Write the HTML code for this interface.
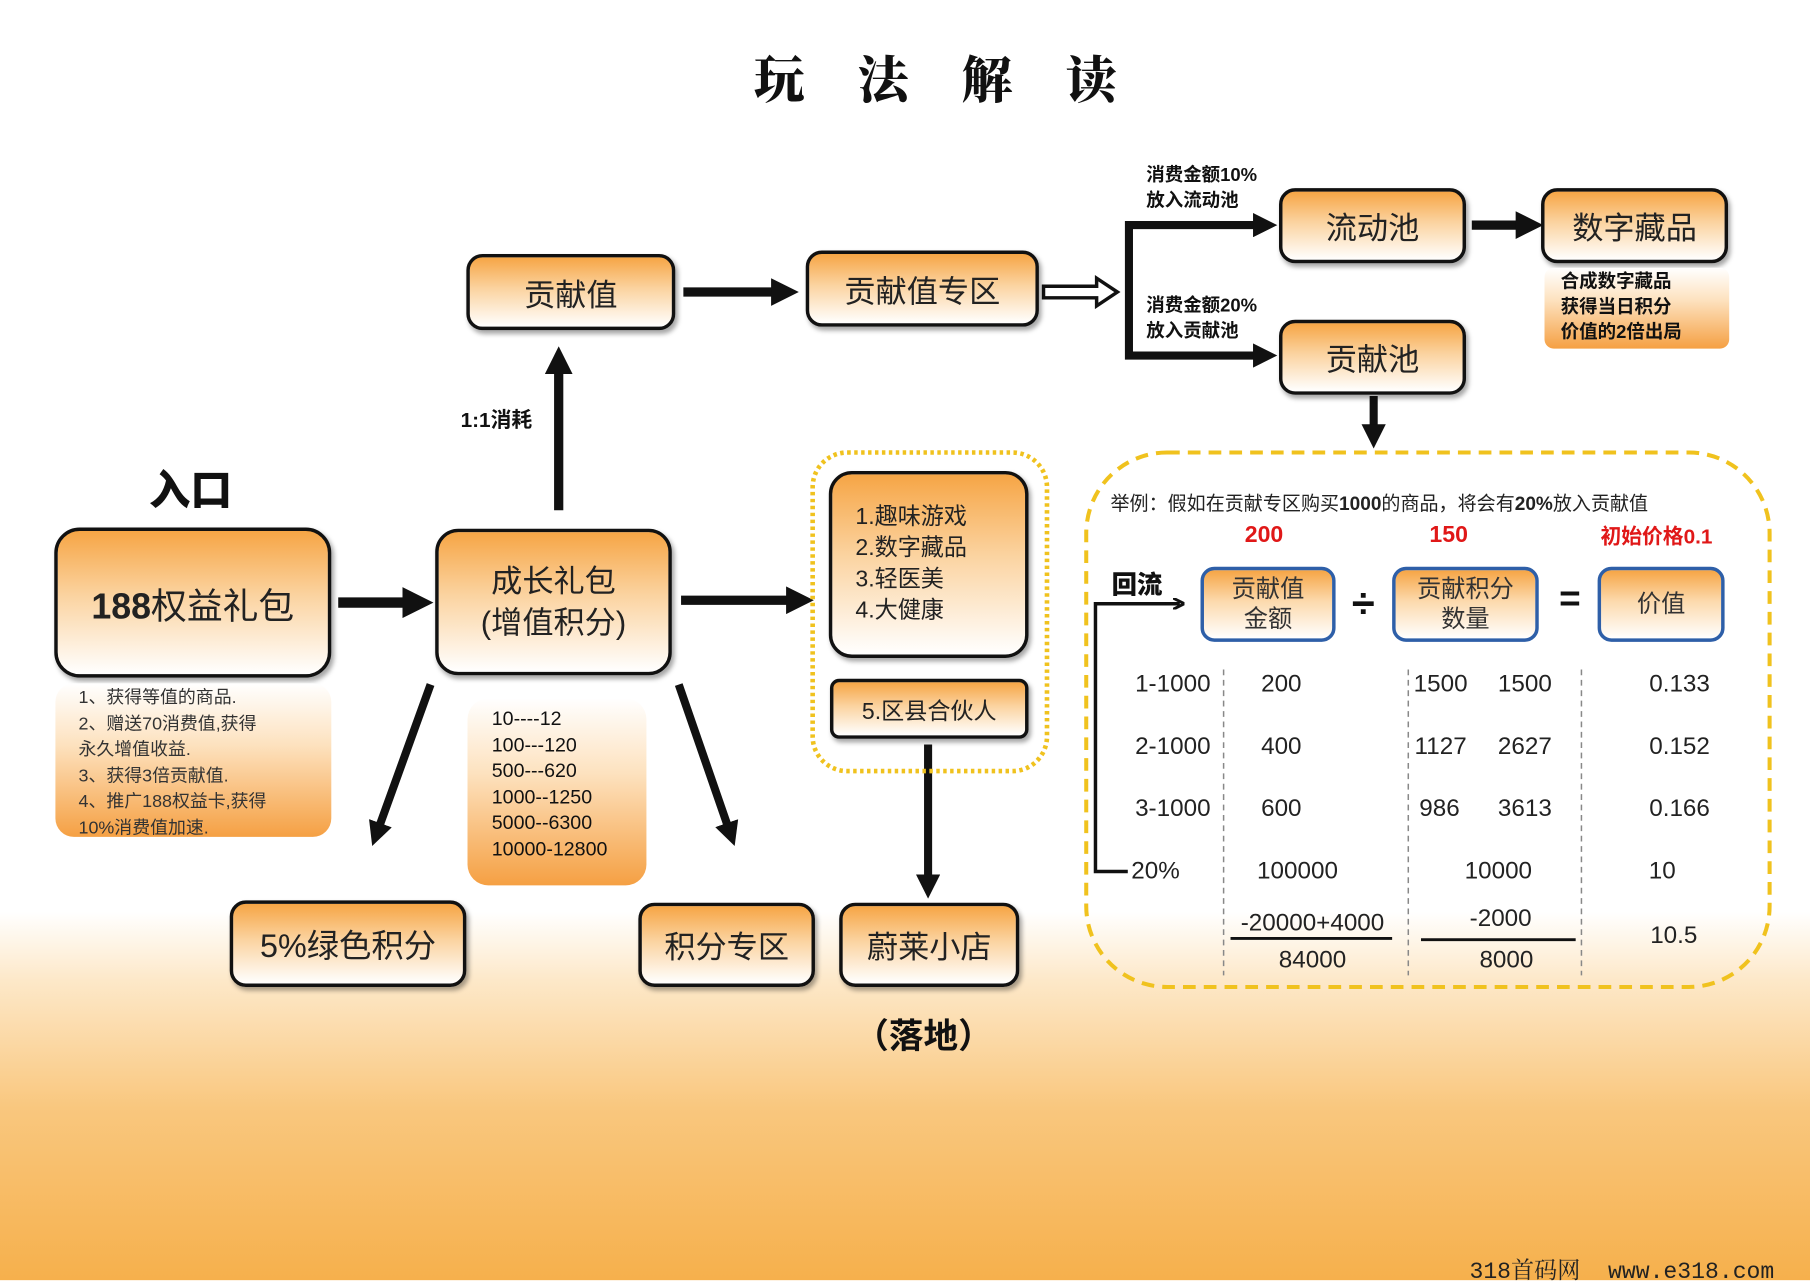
<!DOCTYPE html>
<html><head><meta charset="utf-8">
<style>
html,body{margin:0;padding:0;width:1810px;height:1280px;overflow:hidden;background:#fff}
#wrap{position:absolute;left:0;top:0;width:1568px;height:1109px;transform:scale(1.15434);transform-origin:0 0;
background:linear-gradient(to bottom,#fff 0,#fff 790px,#fde8c8 850px,#f9c77e 960px,#f6b04c 1109px);
font-family:"Liberation Sans","Noto Sans CJK SC",sans-serif;color:#111}
.a{position:absolute}
.box{position:absolute;box-sizing:border-box;border:3px solid #111;border-radius:14px;
background:linear-gradient(to bottom,#f6a545 0%,#fbd3a0 45%,#fff 100%);
box-shadow:2px 3px 4px rgba(0,0,0,.35);display:flex;align-items:center;justify-content:center;text-align:center;color:#222}
.bbox{position:absolute;box-sizing:border-box;border:3px solid #2e5fa8;border-radius:12px;
background:linear-gradient(to bottom,#f6a545 0%,#fcd9ac 45%,#fff 100%);display:flex;align-items:center;justify-content:center;text-align:center;color:#333;font-size:21px;line-height:26px}
.note{position:absolute;box-sizing:border-box;border-radius:16px;background:linear-gradient(to bottom,#fff 0%,#fde2bf 40%,#f5a043 100%)}
.c{transform:translate(-50%,-50%);white-space:nowrap}
.t{font-size:22px;color:#222}
</style></head><body><div id="wrap">

<div class="a c" style="left:810px;top:66px;font-family:'Noto Serif CJK SC','Noto Sans CJK SC',serif;font-weight:900;font-size:44px;letter-spacing:46px;padding-left:46px">玩法解读</div>

<svg class="a" style="left:0;top:0" width="1568" height="1109">
<defs>
<marker id="h" markerWidth="3" markerHeight="3" refX="1.5" refY="1.5" orient="auto" markerUnits="strokeWidth"><path d="M0,0 L3,1.5 L0,3 Z" fill="#111"/></marker>
<marker id="h3" markerWidth="10" markerHeight="10" refX="6" refY="5" orient="auto" markerUnits="userSpaceOnUse"><path d="M0,0 L10,5 L0,10" fill="none" stroke="#111" stroke-width="2.5"/></marker>
</defs>
<g stroke="#111" fill="none">
<line x1="592" y1="253" x2="680" y2="253" stroke-width="8" marker-end="url(#h)"/>
<path d="M904,248 H950 V241 L968,253 L950,265 V258 H904 Z" stroke-width="3" fill="#fff"/>
<path d="M1095,195 H978 V308 H1095" stroke-width="7"/>
<line x1="1090" y1="195" x2="1096" y2="195" stroke-width="7" marker-end="url(#h)"/>
<line x1="1090" y1="308" x2="1096" y2="308" stroke-width="7" marker-end="url(#h)"/>
<line x1="1275" y1="195" x2="1325" y2="195" stroke-width="8" marker-end="url(#h)"/>
<line x1="1190" y1="343" x2="1190" y2="378" stroke-width="7" marker-end="url(#h)"/>
<line x1="293" y1="522" x2="362" y2="522" stroke-width="9" marker-end="url(#h)"/>
<line x1="484" y1="442" x2="484" y2="312" stroke-width="8" marker-end="url(#h)"/>
<line x1="590" y1="520" x2="693" y2="520" stroke-width="8" marker-end="url(#h)"/>
<line x1="373" y1="593" x2="326" y2="723" stroke-width="7" marker-end="url(#h)"/>
<line x1="588" y1="593" x2="633" y2="723" stroke-width="7" marker-end="url(#h)"/>
<line x1="804" y1="645" x2="804" y2="768" stroke-width="7" marker-end="url(#h)"/>
<path d="M1022,523 H949 V755 H977" stroke-width="3"/>
<line x1="1010" y1="523" x2="1022" y2="523" stroke-width="3" marker-end="url(#h3)"/>
<g stroke="#888" stroke-width="1.3" stroke-dasharray="5,4">
<line x1="1060" y1="580" x2="1060" y2="845"/><line x1="1220" y1="580" x2="1220" y2="845"/><line x1="1370" y1="580" x2="1370" y2="845"/>
</g>
<line x1="1066" y1="813" x2="1206" y2="813" stroke-width="2.5"/>
<line x1="1231" y1="814" x2="1365" y2="814" stroke-width="2.5"/>
<rect x="941" y="392" width="592" height="463" rx="70" stroke="#f0c21e" stroke-width="3.5" stroke-dasharray="11,7"/>
<rect x="704" y="392" width="203" height="276" rx="30" stroke="#f0c21e" stroke-width="4" stroke-dasharray="3,3"/>
</g>
</svg>

<div class="box t" style="left:404px;top:220px;width:181px;height:66px;font-size:27px">贡献值</div>
<div class="box t" style="left:698px;top:217px;width:202px;height:66px;font-size:27px">贡献值专区</div>
<div class="box t" style="left:1108px;top:163px;width:162px;height:65px;font-size:27px">流动池</div>
<div class="box t" style="left:1108px;top:277px;width:162px;height:65px;font-size:27px">贡献池</div>
<div class="box t" style="left:1335px;top:163px;width:162px;height:65px;font-size:27px">数字藏品</div>
<div class="note" style="left:1338px;top:232px;width:160px;height:70px;border-radius:8px"></div>
<div class="a" style="left:1352px;top:234px;font-size:16px;font-weight:bold;line-height:22px">合成数字藏品<br>获得当日积分<br>价值的2倍出局</div>
<div class="a" style="left:993px;top:142px;font-size:16px;font-weight:bold;line-height:22px">消费金额10%<br>放入流动池</div>
<div class="a" style="left:993px;top:255px;font-size:16px;font-weight:bold;line-height:22px">消费金额20%<br>放入贡献池</div>

<div class="a c" style="left:430px;top:363px;font-size:18px;font-weight:bold">1:1消耗</div>
<div class="a c" style="left:165px;top:422px;font-size:36px;font-weight:900">入口</div>
<div class="box" style="left:47px;top:457px;width:240px;height:130px;border-radius:22px;font-size:31px"><span><b>188</b>权益礼包</span></div>
<div class="note" style="left:48px;top:592px;width:239px;height:133px"></div>
<div class="a" style="left:68px;top:594px;font-size:15.5px;line-height:22.5px;color:#333">1、获得等值的商品.<br>2、赠送70消费值,获得<br>永久增值收益.<br>3、获得3倍贡献值.<br>4、推广188权益卡,获得<br>10%消费值加速.</div>
<div class="box" style="left:377px;top:458px;width:205px;height:127px;border-radius:20px;font-size:27px;line-height:36px">成长礼包<br>(增值积分)</div>
<div class="note" style="left:405px;top:605px;width:155px;height:162px;border-radius:18px"></div>
<div class="a" style="left:426px;top:612px;font-size:17px;line-height:22.5px">10----12<br>100---120<br>500---620<br>1000--1250<br>5000--6300<br>10000-12800</div>

<div class="box" style="left:718px;top:408px;width:173px;height:162px;border-radius:20px;justify-content:flex-start;text-align:left;font-size:20px;line-height:27px;padding-left:20px">1.趣味游戏<br>2.数字藏品<br>3.轻医美<br>4.大健康</div>
<div class="box" style="left:719px;top:588px;width:172px;height:52px;border-radius:8px;font-size:20px">5.区县合伙人</div>
<div class="box t" style="left:199px;top:780px;width:205px;height:75px;font-size:28px">5%绿色积分</div>
<div class="box t" style="left:553px;top:782px;width:153px;height:73px;font-size:27px">积分专区</div>
<div class="box t" style="left:727px;top:782px;width:156px;height:73px;font-size:27px">蔚莱小店</div>
<div class="a c" style="left:800px;top:895px;font-size:30px;font-weight:bold">（落地）</div>

<div class="a" style="left:962px;top:423px;font-size:16.5px;color:#222">举例：假如在贡献专区购买<b>1000</b>的商品，将会有<b>20%</b>放入贡献值</div>
<div class="a c" style="left:1095px;top:464px;font-size:20px;font-weight:bold;color:#e01818">200</div>
<div class="a c" style="left:1255px;top:464px;font-size:20px;font-weight:bold;color:#e01818">150</div>
<div class="a c" style="left:1435px;top:464px;font-size:18px;font-weight:bold;color:#e01818">初始价格0.1</div>
<div class="a c" style="left:985px;top:505px;font-size:22px;font-weight:900">回流</div>
<div class="bbox" style="left:1040px;top:491px;width:117px;height:65px">贡献值<br>金额</div>
<div class="bbox" style="left:1206px;top:491px;width:127px;height:65px">贡献积分<br>数量</div>
<div class="bbox" style="left:1384px;top:491px;width:110px;height:65px">价值</div>
<div class="a c" style="left:1181px;top:523px;font-size:36px;font-weight:bold">÷</div>
<div class="a c" style="left:1360px;top:519px;font-size:32px;font-weight:bold">=</div>

<div style="font-size:21px;color:#222">
<div class="a c" style="left:1016px;top:593px">1-1000</div><div class="a c" style="left:1110px;top:593px">200</div><div class="a c" style="left:1248px;top:593px">1500</div><div class="a c" style="left:1321px;top:593px">1500</div><div class="a c" style="left:1455px;top:593px">0.133</div>
<div class="a c" style="left:1016px;top:647px">2-1000</div><div class="a c" style="left:1110px;top:647px">400</div><div class="a c" style="left:1248px;top:647px">1127</div><div class="a c" style="left:1321px;top:647px">2627</div><div class="a c" style="left:1455px;top:647px">0.152</div>
<div class="a c" style="left:1016px;top:701px">3-1000</div><div class="a c" style="left:1110px;top:701px">600</div><div class="a c" style="left:1247px;top:701px">986</div><div class="a c" style="left:1321px;top:701px">3613</div><div class="a c" style="left:1455px;top:701px">0.166</div>
<div class="a c" style="left:1001px;top:755px">20%</div><div class="a c" style="left:1124px;top:755px">100000</div><div class="a c" style="left:1298px;top:755px">10000</div><div class="a c" style="left:1440px;top:755px">10</div>
<div class="a c" style="left:1137px;top:800px">-20000+4000</div><div class="a c" style="left:1137px;top:832px">84000</div>
<div class="a c" style="left:1300px;top:796px">-2000</div><div class="a c" style="left:1305px;top:832px">8000</div>
<div class="a c" style="left:1450px;top:811px">10.5</div>
</div>

<div class="a" style="left:1273px;top:1084px;font-family:'Liberation Mono','Noto Serif CJK SC',monospace;font-size:20px;color:#222;white-space:nowrap">318首码网 &nbsp;www.e318.com</div>
</div></body></html>
